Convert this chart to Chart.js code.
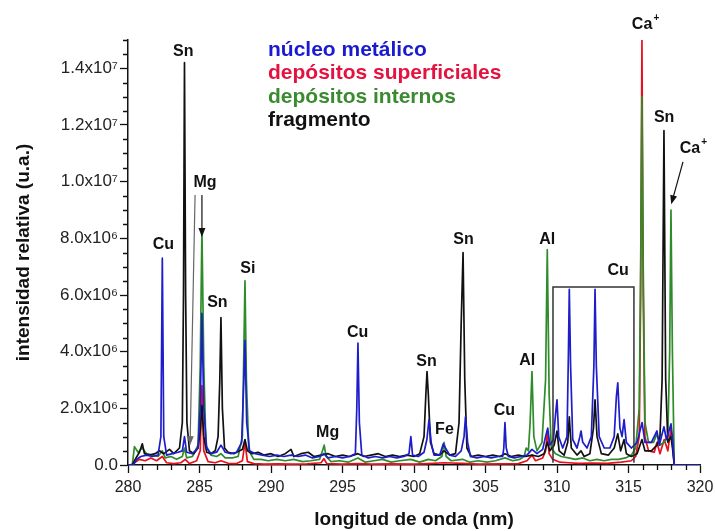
<!DOCTYPE html>
<html>
<head>
<meta charset="utf-8">
<script src="https://cdn.jsdelivr.net/npm/chart.js@4.4.0/dist/chart.umd.min.js"></script>
<style>
  html, body { margin: 0; padding: 0; background: #fff; }
</style>
</head>
<body>
<canvas id="wykres" width="715" height="531"></canvas>
<script>
// intensidades en unidades de 10^6 (u.a.), longitud de onda en nm
const xTicks = [280, 285, 290, 295, 300, 305, 310, 315, 320];
const yTicks = [0, 2, 4, 6, 8, 10, 12, 14];

const nucleo = [[280.0,0],[280.4,0.02],[280.6,0.2],[280.9,0.3],[281.3,0.35],[281.7,0.3],[282.1,0.35],[282.3,1.0],[282.4,7.3],[282.5,1.0],[282.7,0.35],[283.1,0.4],[283.5,0.45],[283.8,0.5],[283.95,1.0],[284.1,0.45],[284.5,0.4],[284.9,0.6],[285.05,2.0],[285.17,5.35],[285.3,2.0],[285.5,0.6],[285.8,0.4],[286.2,0.45],[286.5,0.7],[286.8,0.45],[287.2,0.4],[287.6,0.45],[287.95,0.8],[288.1,3.0],[288.18,4.4],[288.3,1.5],[288.5,0.5],[288.9,0.4],[289.4,0.35],[289.9,0.3],[290.4,0.35],[290.9,0.3],[291.4,0.35],[291.9,0.3],[292.4,0.35],[292.9,0.25],[293.4,0.3],[293.7,0.4],[294.0,0.25],[294.5,0.3],[295.0,0.25],[295.5,0.3],[295.9,0.4],[296.0,2.0],[296.08,4.3],[296.18,1.5],[296.35,0.35],[296.8,0.25],[297.3,0.3],[297.8,0.25],[298.3,0.3],[298.8,0.25],[299.3,0.3],[299.65,0.4],[299.78,1.0],[299.9,0.35],[300.3,0.3],[300.7,0.45],[300.9,0.9],[301.05,1.6],[301.2,0.8],[301.4,0.35],[301.8,0.35],[302.05,0.75],[302.2,0.6],[302.5,0.35],[302.9,0.3],[303.3,0.5],[303.5,1.0],[303.6,1.7],[303.75,0.8],[303.95,0.3],[304.4,0.25],[304.9,0.3],[305.4,0.25],[305.9,0.3],[306.2,0.3],[306.28,0.6],[306.36,1.5],[306.45,0.6],[306.6,0.3],[307.0,0.25],[307.5,0.3],[307.9,0.35],[308.25,0.55],[308.6,0.4],[309.0,0.55],[309.2,1.0],[309.35,1.3],[309.5,0.7],[309.75,0.9],[309.9,1.8],[310.0,2.3],[310.12,1.0],[310.4,0.6],[310.7,1.0],[310.8,4.0],[310.86,6.2],[310.95,3.5],[311.1,0.9],[311.4,0.6],[311.6,1.0],[311.68,1.2],[311.8,0.8],[312.1,0.6],[312.4,1.0],[312.58,3.5],[312.66,6.2],[312.75,3.5],[312.95,1.0],[313.3,0.6],[313.7,0.6],[314.0,1.0],[314.15,2.4],[314.25,2.9],[314.4,1.3],[314.55,1.0],[314.69,1.6],[314.85,0.8],[315.2,0.6],[315.6,0.8],[315.95,1.5],[316.15,0.8],[316.6,0.8],[316.99,1.2],[317.15,0.7],[317.48,1.35],[317.65,0.9],[317.97,1.45],[318.1,0.8],[318.2,0],[320,0]];

const superficiales = [[280.3,0],[280.5,0.1],[280.8,0.2],[281.2,0.15],[281.6,0.25],[282.0,0.15],[282.4,0.3],[282.7,0.08],[283.2,0.05],[283.7,0.08],[284.0,0.2],[284.3,0.05],[284.8,0.15],[285.05,0.5],[285.17,2.8],[285.3,0.5],[285.6,0.12],[286.1,0.08],[286.5,0.15],[287.0,0.06],[287.6,0.05],[288.0,0.15],[288.18,0.8],[288.35,0.12],[288.8,0.05],[289.5,0.03],[290.5,0.04],[291.5,0.03],[292.5,0.04],[293.5,0.08],[293.7,0.22],[293.9,0.05],[295,0.03],[296.1,0.05],[297,0.03],[298.5,0.04],[300,0.03],[301,0.05],[302.1,0.08],[303.4,0.06],[304.5,0.03],[306,0.04],[307.3,0.05],[307.9,0.15],[308.25,0.35],[308.5,0.15],[309.0,0.25],[309.2,0.5],[309.32,1.1],[309.45,0.4],[309.7,0.2],[310.2,0.1],[310.8,0.08],[311.5,0.06],[312.5,0.07],[313.5,0.06],[314.5,0.1],[315.2,0.15],[315.5,0.3],[315.75,1.0],[315.85,6.0],[315.94,15.0],[316.03,6.0],[316.15,1.0],[316.4,0.5],[316.8,0.45],[316.99,0.8],[317.2,0.4],[317.5,0.9],[317.75,0.5],[317.97,1.3],[318.1,0.6],[318.2,0]];

const internos = [[280.3,0],[280.45,0.65],[280.7,0.45],[281.0,0.6],[281.3,0.4],[281.7,0.35],[282.1,0.3],[282.4,0.5],[282.6,0.25],[283.0,0.3],[283.4,0.2],[283.8,0.3],[283.95,0.6],[284.1,0.25],[284.5,0.3],[284.9,0.7],[285.05,3.5],[285.17,8.3],[285.3,3.5],[285.45,0.7],[285.8,0.35],[286.2,0.3],[286.5,0.4],[286.8,0.25],[287.3,0.25],[287.7,0.3],[288.0,1.0],[288.1,4.0],[288.18,6.5],[288.28,3.0],[288.45,0.5],[288.8,0.2],[289.3,0.2],[289.8,0.15],[290.4,0.2],[291.0,0.15],[291.6,0.2],[292.2,0.12],[292.8,0.15],[293.4,0.2],[293.6,0.5],[293.72,0.7],[293.85,0.3],[294.2,0.12],[294.8,0.15],[295.4,0.1],[296.08,0.25],[296.6,0.1],[297.2,0.15],[297.8,0.2],[298.4,0.1],[299.0,0.15],[299.78,0.2],[300.4,0.1],[301.0,0.2],[301.5,0.15],[301.95,0.3],[302.1,0.8],[302.25,0.3],[302.6,0.15],[303.4,0.2],[303.9,0.1],[304.5,0.15],[305.1,0.1],[305.7,0.15],[306.36,0.25],[306.9,0.15],[307.4,0.2],[307.7,0.3],[307.85,0.6],[308.0,0.5],[308.12,1.5],[308.25,3.3],[308.38,1.0],[308.6,0.5],[308.95,0.8],[309.2,3.0],[309.32,7.6],[309.45,2.5],[309.6,0.6],[309.9,0.4],[310.3,0.3],[310.8,0.25],[311.3,0.2],[311.8,0.25],[312.3,0.15],[312.8,0.2],[313.3,0.15],[313.8,0.2],[314.3,0.2],[314.8,0.25],[315.2,0.35],[315.5,0.6],[315.75,2.0],[315.85,7.0],[315.94,13.0],[316.03,7.0],[316.15,1.5],[316.4,0.8],[316.75,0.8],[316.99,1.1],[317.2,0.7],[317.5,0.8],[317.75,1.0],[317.88,4.0],[317.97,9.0],[318.07,4.0],[318.2,0]];

const fragmento = [[280.3,0],[280.5,0.2],[280.8,0.45],[281.0,0.75],[281.15,0.4],[281.5,0.35],[281.9,0.4],[282.2,0.5],[282.5,0.4],[282.9,0.55],[283.2,0.4],[283.6,0.6],[283.8,1.5],[283.88,6.0],[283.95,14.2],[284.03,6.0],[284.12,1.5],[284.3,0.5],[284.6,0.4],[284.9,0.6],[285.05,1.2],[285.17,2.1],[285.3,1.0],[285.5,0.45],[285.8,0.4],[286.1,0.5],[286.3,1.0],[286.42,3.0],[286.5,5.2],[286.6,2.0],[286.75,0.6],[287.0,0.45],[287.4,0.4],[287.8,0.5],[288.0,0.55],[288.18,0.9],[288.35,0.5],[288.7,0.4],[289.1,0.45],[289.5,0.35],[290.0,0.4],[290.5,0.3],[291.0,0.4],[291.4,0.55],[291.6,0.3],[292.1,0.4],[292.6,0.45],[293.0,0.3],[293.5,0.35],[294.0,0.4],[294.5,0.3],[295.0,0.35],[295.5,0.3],[296.08,0.4],[296.5,0.3],[297.0,0.35],[297.5,0.4],[298.0,0.3],[298.5,0.35],[299.0,0.3],[299.5,0.35],[300.0,0.3],[300.4,0.4],[300.7,1.0],[300.83,2.5],[300.91,3.3],[301.0,2.5],[301.15,0.8],[301.4,0.4],[301.8,0.35],[302.1,0.5],[302.5,0.35],[302.9,0.4],[303.15,1.5],[303.3,5.0],[303.43,7.5],[303.55,3.0],[303.7,0.6],[304.0,0.3],[304.5,0.35],[305.0,0.3],[305.5,0.35],[306.0,0.3],[306.36,0.4],[306.8,0.3],[307.3,0.35],[307.8,0.3],[308.25,0.35],[308.7,0.3],[309.1,0.4],[309.32,0.8],[309.5,0.5],[309.8,0.7],[310.0,1.2],[310.15,0.5],[310.5,0.35],[310.75,0.8],[310.86,1.7],[311.0,0.6],[311.4,0.35],[311.68,0.5],[311.9,0.3],[312.3,0.4],[312.55,1.3],[312.66,2.3],[312.8,1.0],[313.1,0.4],[313.6,0.35],[314.0,0.6],[314.25,1.1],[314.45,0.5],[314.69,0.9],[314.85,0.4],[315.2,0.3],[315.6,0.4],[315.94,0.9],[316.15,0.5],[316.6,0.5],[316.99,0.7],[317.2,1.0],[317.35,3.0],[317.48,11.8],[317.6,3.0],[317.75,0.8],[317.97,1.0],[318.1,0.5],[318.2,0]];

// etiquetas de elementos: texto, posicion (nm, 10^6)
const etiquetas = [
  ['Cu', 282.48, 7.77], ['Sn', 283.87, 14.58], ['Mg', 285.38, 9.95], ['Sn', 286.25, 5.72],
  ['Si', 288.38, 6.92], ['Mg', 293.96, 1.13], ['Cu', 296.06, 4.66], ['Sn', 300.87, 3.64],
  ['Fe', 302.13, 1.24], ['Sn', 303.46, 7.94], ['Cu', 306.32, 1.91], ['Al', 307.92, 3.67],
  ['Al', 309.32, 7.94], ['Cu', 314.28, 6.85], ['Ca+', 315.95, 15.53], ['Sn', 317.49, 12.25],
  ['Ca+', 319.30, 11.15]
];
// flechas: desde (nm, I) hasta (nm, I), color
const flechas = [
  [284.69, 9.53, 284.34, 0.7, '#666'],
  [285.17, 9.53, 285.17, 8.05, '#111'],
  [318.81, 10.7, 317.99, 9.2, '#111']
];
// recuadro de las lineas de Cu: nm izq, nm der, I arriba, I abajo
const recuadro = [309.72, 315.38, 6.28, 0.08];

const series = [
  { label: 'núcleo metálico', data: nucleo, color: '#1d1dcc', text: '#1a1ad0', order: 0 },
  { label: 'depósitos superficiales', data: superficiales, color: '#e8101e', text: '#e3123f', order: 3 },
  { label: 'depósitos internos', data: internos, color: '#2f8c2a', text: '#3a8a30', order: 2 },
  { label: 'fragmento', data: fragmento, color: '#111111', text: '#111111', order: 1 }
];

const FONT = "'Liberation Sans', Arial, sans-serif";

function etiquetaY(v) {
  if (v === 0) return '0.0';
  if (v >= 10) return (v / 10).toFixed(1) + 'x10\u2077';
  return v.toFixed(1) + 'x10\u2076';
}

const extras = {
  id: 'extras',
  afterDraw(chart) {
    const ctx = chart.ctx;
    const x = chart.scales.x, y = chart.scales.y;
    const area = chart.chartArea;
    ctx.save();
    ctx.strokeStyle = '#111';
    ctx.lineWidth = 1.3;
    // marcas menores
    ctx.beginPath();
    for (let v = 281; v < 320; v++) {
      if (v % 5 === 0) continue;
      const px = Math.round(x.getPixelForValue(v)) + 0.5;
      ctx.moveTo(px, area.bottom);
      ctx.lineTo(px, area.bottom + 5);
    }
    for (let v = 0.5; v <= 15; v += 0.5) {
      if (v % 2 === 0) continue;
      const py = Math.round(y.getPixelForValue(v)) + 0.5;
      ctx.moveTo(area.left, py);
      ctx.lineTo(area.left - 5, py);
    }
    ctx.stroke();

    // recuadro
    ctx.strokeStyle = '#333';
    ctx.lineWidth = 1.5;
    const bx1 = x.getPixelForValue(recuadro[0]), bx2 = x.getPixelForValue(recuadro[1]);
    const by1 = y.getPixelForValue(recuadro[2]), by2 = y.getPixelForValue(recuadro[3]);
    ctx.beginPath();
    ctx.moveTo(bx1, by2); ctx.lineTo(bx1, by1); ctx.lineTo(bx2, by1); ctx.lineTo(bx2, by2);
    ctx.stroke();

    // flechas
    ctx.lineWidth = 1.2;
    flechas.forEach(f => {
      ctx.strokeStyle = f[4];
      ctx.fillStyle = f[4];
      const x1 = x.getPixelForValue(f[0]), y1 = y.getPixelForValue(f[1]);
      const x2 = x.getPixelForValue(f[2]), y2 = y.getPixelForValue(f[3]);
      const ang = Math.atan2(y2 - y1, x2 - x1);
      ctx.beginPath();
      ctx.moveTo(x1, y1);
      ctx.lineTo(x2 - 7 * Math.cos(ang), y2 - 7 * Math.sin(ang));
      ctx.stroke();
      ctx.beginPath();
      ctx.moveTo(x2, y2);
      ctx.lineTo(x2 - 9 * Math.cos(ang) + 3.5 * Math.sin(ang), y2 - 9 * Math.sin(ang) - 3.5 * Math.cos(ang));
      ctx.lineTo(x2 - 9 * Math.cos(ang) - 3.5 * Math.sin(ang), y2 - 9 * Math.sin(ang) + 3.5 * Math.cos(ang));
      ctx.closePath();
      ctx.fill();
    });

    // etiquetas de elementos
    ctx.textBaseline = 'middle';
    ctx.textAlign = 'center';
    etiquetas.forEach(e => {
      const px = x.getPixelForValue(e[1]), py = y.getPixelForValue(e[2]);
      ctx.font = 'bold 16px ' + FONT;
      ctx.fillStyle = '#111';
      if (e[0].endsWith('+')) {
        const t = e[0].slice(0, -1);
        ctx.fillText(t, px, py);
        const w = ctx.measureText(t).width;
        ctx.font = 'bold 10px ' + FONT;
        ctx.fillText('+', px + w / 2 + 4, py - 7);
      } else {
        ctx.fillText(e[0], px, py);
      }
    });

    // leyenda
    ctx.textAlign = 'left';
    ctx.font = 'bold 21px ' + FONT;
    series.forEach((s, i) => {
      ctx.fillStyle = s.text;
      ctx.fillText(s.label, 268, 50 + i * 23.5);
    });
    ctx.restore();
  }
};

new Chart(document.getElementById('wykres'), {
  type: 'scatter',
  data: {
    datasets: series.map(s => ({
      label: s.label,
      data: s.data.map(p => ({ x: p[0], y: p[1] })),
      borderColor: s.color,
      backgroundColor: s.color,
      showLine: true,
      borderWidth: 1.7,
      borderJoinStyle: 'round',
      pointRadius: 0,
      order: s.order
    }))
  },
  options: {
    responsive: false,
    animation: false,
    layout: { padding: { top: 40, right: 15, left: 0, bottom: 0 } },
    plugins: { legend: { display: false }, tooltip: { enabled: false } },
    scales: {
      x: {
        type: 'linear', min: 280, max: 320,
        afterBuildTicks: s => { s.ticks = xTicks.map(v => ({ value: v })); },
        afterFit: s => { s.height = 66; s.paddingRight = 0; s.paddingLeft = 0; },
        ticks: { font: { family: FONT, size: 16 }, color: '#222', padding: 5, maxRotation: 0 },
        grid: { display: true, drawOnChartArea: false, tickLength: 8, tickColor: '#111', tickWidth: 1.3 },
        border: { display: true, color: '#111', width: 1.5 },
        title: { display: true, text: 'longitud de onda (nm)', color: '#111',
                 font: { family: FONT, size: 19, weight: 'bold' }, padding: { top: 0, bottom: 0 } }
      },
      y: {
        min: 0, max: 15,
        afterBuildTicks: s => { s.ticks = yTicks.map(v => ({ value: v })); },
        afterFit: s => { s.width = 128; s.paddingTop = 0; s.paddingBottom = 0; },
        ticks: { font: { family: FONT, size: 17 }, color: '#222', padding: 2, callback: v => etiquetaY(v) },
        grid: { display: true, drawOnChartArea: false, tickLength: 8, tickColor: '#111', tickWidth: 1.3 },
        border: { display: true, color: '#111', width: 1.5 },
        title: { display: true, text: 'intensidad relativa (u.a.)', color: '#111',
                 font: { family: FONT, size: 19, weight: 'bold' }, padding: { top: 12, bottom: 0 } }
      }
    }
  },
  plugins: [extras]
});
</script>
</body>
</html>
